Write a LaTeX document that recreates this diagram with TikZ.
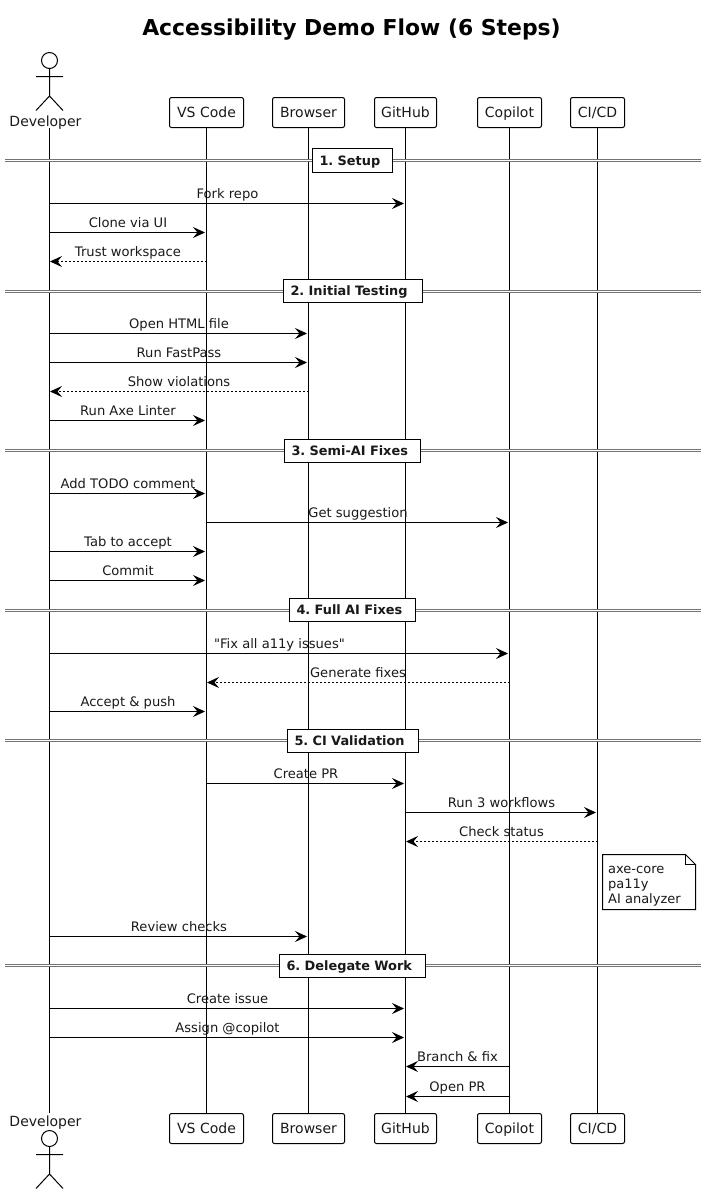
\documentclass[tikz,border=0pt]{standalone}
\usepackage{fontspec}
\setmainfont{DejaVu Sans}[Ligatures=TeXOff]
\usetikzlibrary{arrows.meta}
\frenchspacing

\tikzset{
    every node/.style={font=\fontsize{14}{16}\selectfont, text=black!90},
    partbox/.style={draw, rounded corners=2pt, fill=white, minimum height=30pt, inner sep=0pt, line width=1pt,
        text height=11pt, text depth=2pt},
    msg/.style={-{Stealth[length=12pt, width=11pt, inset=4.5pt]}, line width=1pt, shorten >=1.5pt},
    backmsg/.style={msg, shorten >=.5pt},
    reply/.style={backmsg, dash pattern=on 2pt off 2pt},
    msglabel/.style={above, inner sep=0pt, yshift=5pt, text depth=0pt, font=\fontsize{13.1}{15}\selectfont},
    lifeline/.style={line width=1pt},
    divider/.style={double=white, double distance=1pt, line width=1pt, draw=black!55},
    divbox/.style={draw=black, fill=white, line width=1pt, inner xsep=7pt, inner ysep=0pt, minimum height=23pt,
        align=left, text height=11pt, text depth=2pt, font=\fontsize{12.9}{14}\selectfont\bfseries},
    actorfig/.pic={
        \draw[line width=1pt] (0,0) circle (8);
        \draw[line width=1pt] (0,8) -- (0,35.5) (-13.5,16) -- (13.5,16) (-13.5,50) -- (0,35.5) -- (13.5,50);
    }
}

\begin{document}
\begin{tikzpicture}[x=1pt, y=-1pt]
    \useasboundingbox (0,0) rectangle (706,1194);

    \node[font=\fontsize{21.9}{24}\selectfont\bfseries, text=black] (title) at (351.5, 30) {Accessibility Demo Flow (6 Steps)};

    % participants
    \node[anchor=base](DevT) at (45.5, 126) {Developer};
    \node[partbox, minimum width=74pt](VsT)  at (206.5, 112.5) {VS Code};
    \node[partbox, minimum width=72pt](BroT) at (308.5, 112.5) {Browser};
    \node[partbox, minimum width=62pt](GitT) at (405.5, 112.5) {GitHub};
    \node[partbox, minimum width=64pt](CopT) at (509.5, 112.5) {Copilot};
    \node[partbox, minimum width=54pt](CiT)  at (597.5, 112.5) {CI/CD};

    \node[anchor=base](DevB) at (45.5, 1126) {Developer};
    \node[partbox, minimum width=74pt](VsB)  at (206.5, 1128.5) {VS Code};
    \node[partbox, minimum width=72pt](BroB) at (308.5, 1128.5) {Browser};
    \node[partbox, minimum width=62pt](GitB) at (405.5, 1128.5) {GitHub};
    \node[partbox, minimum width=64pt](CopB) at (509.5, 1128.5) {Copilot};
    \node[partbox, minimum width=54pt](CiB)  at (597.5, 1128.5) {CI/CD};

    \pic at (49.5, 60.5) {actorfig};
    \pic at (49.5, 1138.5) {actorfig};

    \coordinate(DevA) at (49.5, 128);
    \coordinate(DevZ) at (49.5, 1113);
    \draw[lifeline] (DevA) -- (DevZ);
    \draw[lifeline] (VsT)  -- (VsB);
    \draw[lifeline] (BroT) -- (BroB);
    \draw[lifeline] (GitT) -- (GitB);
    \draw[lifeline] (CopT) -- (CopB);
    \draw[lifeline] (CiT)  -- (CiB);

    % 1. Setup
    \coordinate(dL1) at (5, 160.5);  \coordinate(dR1) at (701, 160.5);
    \draw[divider] (dL1) -- (dR1);
    \node[divbox, text width=66pt, minimum height=24pt](d1) at (352.5, 160.5) {1. Setup};
    \coordinate(r1) at (0, 203.5);
    \coordinate(r2) at (0, 232.5);
    \coordinate(r3) at (0, 261.5);
    \draw[msg]   (DevA |- r1) to node[msglabel](m1) {Fork repo} (GitT |- r1);
    \draw[msg]   (DevA |- r2) to node[msglabel](m2) {Clone via UI} (VsT |- r2);
    \draw[reply] (VsT |- r3) to node[msglabel](m3) {Trust workspace} (DevA |- r3);

    % 2. Initial Testing
    \coordinate(dL2) at (5, 291.5);  \coordinate(dR2) at (701, 291.5);
    \draw[divider] (dL2) -- (dR2);
    \node[divbox, text width=125pt](d2) at (353, 291) {2. Initial Testing};
    \coordinate(r4) at (0, 333.5);
    \coordinate(r5) at (0, 362.5);
    \coordinate(r6) at (0, 391.5);
    \coordinate(r7) at (0, 420.5);
    \draw[msg]   (DevA |- r4) to node[msglabel](m4) {Open HTML file} (BroT |- r4);
    \draw[msg]   (DevA |- r5) to node[msglabel](m5) {Run FastPass} (BroT |- r5);
    \draw[reply] (BroT |- r6) to node[msglabel](m6) {Show violations} (DevA |- r6);
    \draw[msg]   (DevA |- r7) to node[msglabel](m7) {Run Axe Linter} (VsT |- r7);

    % 3. Semi-AI Fixes
    \coordinate(dL3) at (5, 450.5);  \coordinate(dR3) at (701, 450.5);
    \draw[divider] (dL3) -- (dR3);
    \node[divbox, text width=122pt](d3) at (352.5, 451) {3. Semi-AI Fixes};
    \coordinate(r8)  at (0, 493.5);
    \coordinate(r9)  at (0, 522.5);
    \coordinate(r10) at (0, 551.5);
    \coordinate(r11) at (0, 580.5);
    \draw[msg] (DevA |- r8)  to node[msglabel](m8)  {Add TODO comment} (VsT |- r8);
    \draw[msg] (VsT |- r9)   to node[msglabel](m9)  {Get suggestion} (CopT |- r9);
    \draw[msg] (DevA |- r10) to node[msglabel](m10) {Tab to accept} (VsT |- r10);
    \draw[msg] (DevA |- r11) to node[msglabel](m11) {Commit} (VsT |- r11);

    % 4. Full AI Fixes
    \coordinate(dL4) at (5, 610.5);  \coordinate(dR4) at (701, 610.5);
    \draw[divider] (dL4) -- (dR4);
    \node[divbox, text width=112pt](d4) at (352.5, 610) {4. Full AI Fixes};
    \coordinate(r12) at (0, 653.5);
    \coordinate(r13) at (0, 682.5);
    \coordinate(r14) at (0, 711.5);
    \draw[msg]   (DevA |- r12) to node[msglabel](m12) {"Fix all a11y issues"} (CopT |- r12);
    \draw[reply] (CopT |- r13) to node[msglabel](m13) {Generate fixes} (VsT |- r13);
    \draw[msg]   (DevA |- r14) to node[msglabel](m14) {Accept \& push} (VsT |- r14);

    % 5. CI Validation
    \coordinate(dL5) at (5, 740.5);  \coordinate(dR5) at (701, 740.5);
    \draw[divider] (dL5) -- (dR5);
    \node[divbox, text width=117pt](d5) at (353, 741) {5. CI Validation};
    \coordinate(r15) at (0, 783.5);
    \coordinate(r16) at (0, 812.5);
    \coordinate(r17) at (0, 841.5);
    \coordinate(r18) at (0, 936.5);
    \draw[msg]   (VsT |- r15)  to node[msglabel](m15) {Create PR} (GitT |- r15);
    \draw[msg]   (GitT |- r16) to node[msglabel](m16) {Run 3 workflows} (CiT |- r16);
    \draw[reply] (CiT |- r17)  to node[msglabel](m17) {Check status} (GitT |- r17);
    \draw[msg]   (DevA |- r18) to node[msglabel](m18) {Review checks} (BroT |- r18);

    % note
    \draw[line width=1pt, fill=white] (602.5,854.5) -- (685.5,854.5) -- (695.5,864.5) -- (695.5,909.5) -- (602.5,909.5) -- cycle;
    \draw[line width=1pt] (685.5,854.5) -- (685.5,864.5) -- (695.5,864.5);
    \node[anchor=north west, align=left, inner sep=0pt, font=\fontsize{13}{15}\selectfont](note) at (608, 866) {axe-core\\pa11y\\AI analyzer};

    % 6. Delegate Work
    \coordinate(dL6) at (5, 965.5);  \coordinate(dR6) at (701, 965.5);
    \draw[divider] (dL6) -- (dR6);
    \node[divbox, text width=132pt](d6) at (352.5, 966) {6. Delegate Work};
    \coordinate(r19) at (0, 1008.5);
    \coordinate(r20) at (0, 1037.5);
    \coordinate(r21) at (0, 1066.5);
    \coordinate(r22) at (0, 1096.5);
    \draw[msg] (DevA |- r19) to node[msglabel](m19) {Create issue} (GitT |- r19);
    \draw[msg] (DevA |- r20) to node[msglabel](m20) {Assign @copilot} (GitT |- r20);
    \draw[backmsg] (CopT |- r21) to node[msglabel](m21) {Branch \& fix} (GitT |- r21);
    \draw[backmsg] (CopT |- r22) to node[msglabel](m22) {Open PR} (GitT |- r22);
\end{tikzpicture}
\end{document}
